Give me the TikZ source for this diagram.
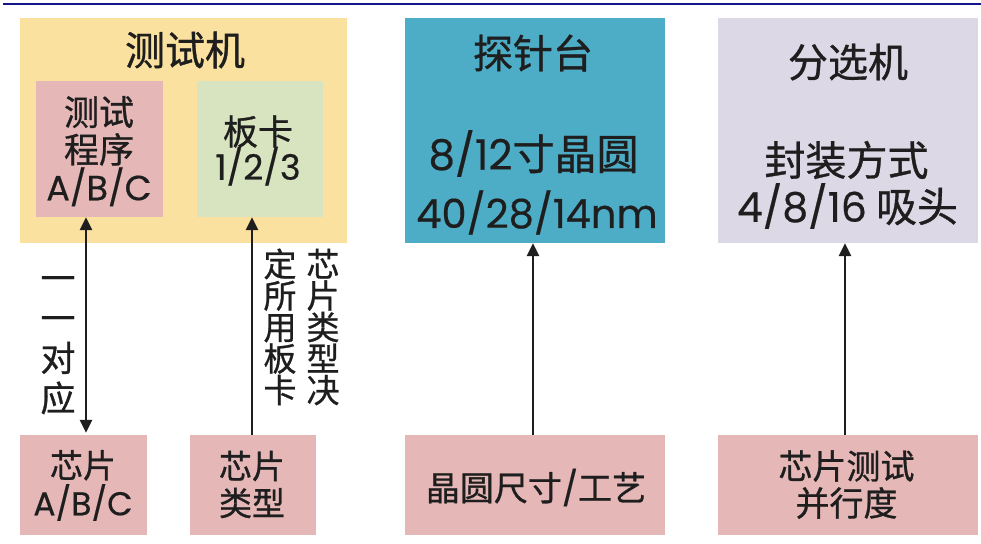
\documentclass[tikz,border=0pt]{standalone}
\usepackage{fontspec}
\setmainfont{Noto Sans CJK SC}[FakeBold=0.8]
\newfontfamily\lat{Poppins}[FakeBold=0.4]
\usetikzlibrary{arrows.meta}
\lineskiplimit=-100pt
\lineskip=0pt
\definecolor{navyrule}{HTML}{15158A}
\definecolor{goldfill}{HTML}{FAE19F}
\definecolor{pinkfill}{HTML}{E5B8B7}
\definecolor{greenfill}{HTML}{D8E4BF}
\definecolor{bluefill}{HTML}{4DACC6}
\definecolor{lavfill}{HTML}{DDD8E6}
\definecolor{inkc}{HTML}{1E1E1E}
\newcommand{\fsz}[2]{\fontsize{#1}{#2}\selectfont}
\newcommand{\vs}{\rule[-0.2em]{0pt}{1.1em}}
\tikzset{
  box/.style={rectangle, inner sep=0pt, draw=none},
  txt/.style={inner sep=0pt, outer sep=0pt, align=center, text=inkc},
  arr/.style={line width=2.6pt, draw=inkc, -{Triangle[length=13pt,width=12pt]}},
  darr/.style={line width=2.6pt, draw=inkc, {Triangle[length=13pt,width=12pt]}-{Triangle[length=13pt,width=12pt]}},
}
\begin{document}
\begin{tikzpicture}[x=1pt,y=-1pt]
\useasboundingbox (0,0) rectangle (981,543);
\fill[white] (0,0) rectangle (981,543);
% top rule
\coordinate (ruleL) at (3,4);
\coordinate (ruleR) at (981,4);
\draw[navyrule, line width=2.5pt] (ruleL) -- (ruleR);

% boxes
\node[box, fill=goldfill, minimum width=327pt, minimum height=225pt] (tester) at (183.5,130.5) {};
\node[box, fill=pinkfill, minimum width=127pt, minimum height=136pt] (prog) at (99.5,149) {};
\node[box, fill=greenfill, minimum width=126pt, minimum height=136pt] (board) at (260,149) {};
\node[box, fill=bluefill, minimum width=260pt, minimum height=225pt] (prober) at (535,130.5) {};
\node[box, fill=lavfill, minimum width=260pt, minimum height=225pt] (handler) at (847.5,130.5) {};
\node[box, fill=pinkfill, minimum width=127pt, minimum height=100pt] (chipabc) at (83.5,485) {};
\node[box, fill=pinkfill, minimum width=126pt, minimum height=100pt] (chiptype) at (253,485) {};
\node[box, fill=pinkfill, minimum width=260pt, minimum height=100pt] (wafer) at (535,485) {};
\node[box, fill=pinkfill, minimum width=260pt, minimum height=100pt] (para) at (847.5,485) {};

% texts
\node[txt, font=\fsz{40}{44}] (testerT) at (185,50) {测试机};
\node[txt, font=\fsz{35}{37.5}] (progT) at (99,150.5) {\vs 测试\\\vs 程序\\\vs{\lat A/B/C}};
\node[txt, font=\fsz{35}{35}] (boardT) at (258,150) {\vs 板卡\\\vs{\lat 1/2/3}};
\node[txt, font=\fsz{40}{44}] (proberT) at (533,53) {探针台};
\node[txt, font=\fsz{42}{44}] (proberL1) at (533.5,153.5) {{\lat 8/12}寸晶圆};
\node[txt, font=\fsz{40}{44}] (proberL2) at (537,212.5) {{\lat 40/28/14nm}};
\node[txt, font=\fsz{40}{44}] (handlerT) at (848,62) {分选机};
\node[txt, font=\fsz{41}{44}] (handlerL1) at (846.5,160) {封装方式};
\node[txt, font=\fsz{41}{44}] (handlerL2) at (847.5,206) {{\lat 4/8/16} 吸头};
\node[txt, font=\fsz{33}{37.5}] (chipabcT) at (83,485) {\vs 芯片\\\vs{\lat A/B/C}};
\node[txt, font=\fsz{33}{37}] (chiptypeT) at (252,485.5) {\vs 芯片\\\vs 类型};
\node[txt, font=\fsz{34}{37}] (waferT) at (536,487.5) {晶圆尺寸{\lat /}工艺};
\node[txt, font=\fsz{34}{37}] (paraT) at (846.5,485.5) {\vs 芯片测试\\\vs 并行度};

% connector labels
\node[txt, font=\fsz{35}{40}] (oneone) at (58,339) {\vs 一\\\vs 一\\\vs 对\\\vs 应};
\node[txt, font=\fsz{33}{31.5}] (decideA) at (323,328) {\vs 芯\\\vs 片\\\vs 类\\\vs 型\\\vs 决};
\node[txt, font=\fsz{33}{31.5}] (decideB) at (280,328) {\vs 定\\\vs 所\\\vs 用\\\vs 板\\\vs 卡};

% connectors
\coordinate (xL) at (86,0);
\coordinate (xB) at (252,0);
\coordinate (xP) at (533,0);
\coordinate (xH) at (845,0);
\draw[darr, shorten <=2pt] (chipabc.north -| xL) -- (prog.south -| xL);
\draw[arr] (chiptype.north -| xB) -- (board.south -| xB);
\draw[arr] (wafer.north -| xP) -- (prober.south -| xP);
\draw[arr] (para.north -| xH) -- (handler.south -| xH);
\end{tikzpicture}
\end{document}
